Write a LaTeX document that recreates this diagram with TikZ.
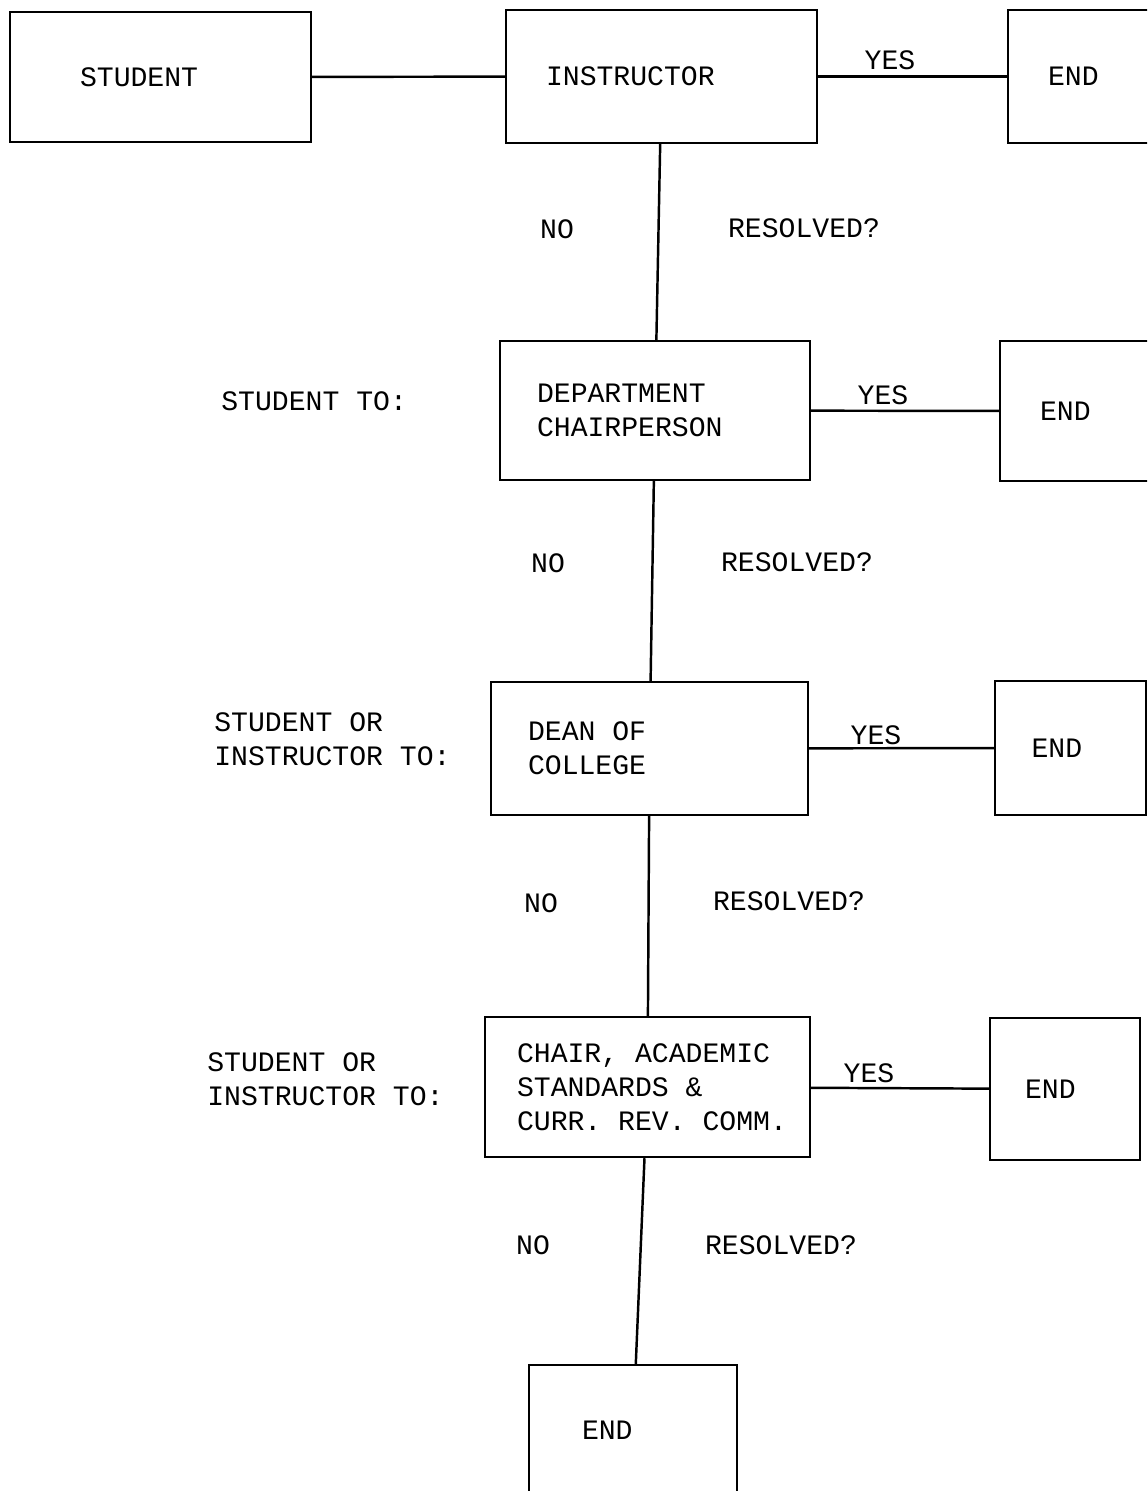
\documentclass[tikz,border=0pt]{standalone}
\usepackage{fontspec}
\newfontfamily\tw[WordSpace={1,0,0}]{Liberation Mono}
\begin{document}
\begin{tikzpicture}[x=0.02cm,y=-0.02cm,
    box/.style={draw, line width=1.4pt, inner sep=0pt, align=flush left, font=\tw\fontsize{16}{19.5}\selectfont},
    lbl/.style={inner sep=0pt, align=left, font=\tw\fontsize{16}{19.5}\selectfont},
    conn/.style={line width=1.4pt}]
    \useasboundingbox (0,0) rectangle (1147,1491);
    \clip (0,0) rectangle (1147,1491);
    \node[box, minimum width=6.02cm, minimum height=2.6cm, text width=3.22cm] (student) at (160.5,77) {STUDENT};
    \node[box, minimum width=6.22cm, minimum height=2.66cm, text width=4.62cm] (instr) at (661.5,76.5) {INSTRUCTOR};
    \node[box, minimum width=3.04cm, minimum height=2.66cm, text width=1.44cm] (end1) at (1084,76.5) {END};
    \node[box, minimum width=6.2cm, minimum height=2.78cm, text width=4.72cm] (dept) at (655,410.5) {DEPARTMENT\\CHAIRPERSON};
    \node[box, minimum width=3.1cm, minimum height=2.8cm, text width=1.5cm] (end2) at (1077.5,411) {END};
    \node[box, minimum width=6.34cm, minimum height=2.66cm, text width=4.86cm] (dean) at (649.5,748.5) {DEAN OF\\COLLEGE};
    \node[box, minimum width=3.02cm, minimum height=2.68cm, text width=1.56cm] (end3) at (1070.5,748) {END};
    \node[box, minimum width=6.5cm, minimum height=2.8cm, text width=5.22cm] (chair) at (647.5,1087) {CHAIR,~ACADEMIC\\STANDARDS~\&\\CURR.~REV.~COMM.};
    \node[box, minimum width=3cm, minimum height=2.84cm, text width=1.6cm] (end4) at (1065,1089) {END};
    \node[box, minimum width=4.16cm, minimum height=2.6cm, text width=2.04cm] (end5) at (633,1430) {END};
    \draw[conn] (student) -- (instr);
    \draw[conn] (instr) -- (end1);
    \draw[conn] (instr) -- (dept);
    \draw[conn] (dept) -- (end2);
    \draw[conn] (dept) -- (dean);
    \draw[conn] (dean) -- (end3);
    \draw[conn] (dean) -- (chair);
    \draw[conn] (chair) -- (end4);
    \draw[conn] (chair) -- (end5);
    \node[lbl] (yes1) at (890,60) {YES};
    \node[lbl] (yes2) at (883,395) {YES};
    \node[lbl] (yes3) at (876,735) {YES};
    \node[lbl] (yes4) at (869,1073) {YES};
    \node[lbl] (no1) at (557,229) {NO};
    \node[lbl] (no2) at (548,563) {NO};
    \node[lbl] (no3) at (541,903) {NO};
    \node[lbl] (no4) at (533,1245) {NO};
    \node[lbl] (res1) at (804,228) {RESOLVED?};
    \node[lbl] (res2) at (797,562) {RESOLVED?};
    \node[lbl] (res3) at (789,901) {RESOLVED?};
    \node[lbl] (res4) at (781,1245) {RESOLVED?};
    \node[lbl, anchor=west] (to1) at (221,401) {STUDENT TO:};
    \node[lbl, anchor=west] (to2) at (214,739) {STUDENT OR\\INSTRUCTOR TO:};
    \node[lbl, anchor=west] (to3) at (207,1079.5) {STUDENT OR\\INSTRUCTOR TO:};
\end{tikzpicture}
\end{document}
